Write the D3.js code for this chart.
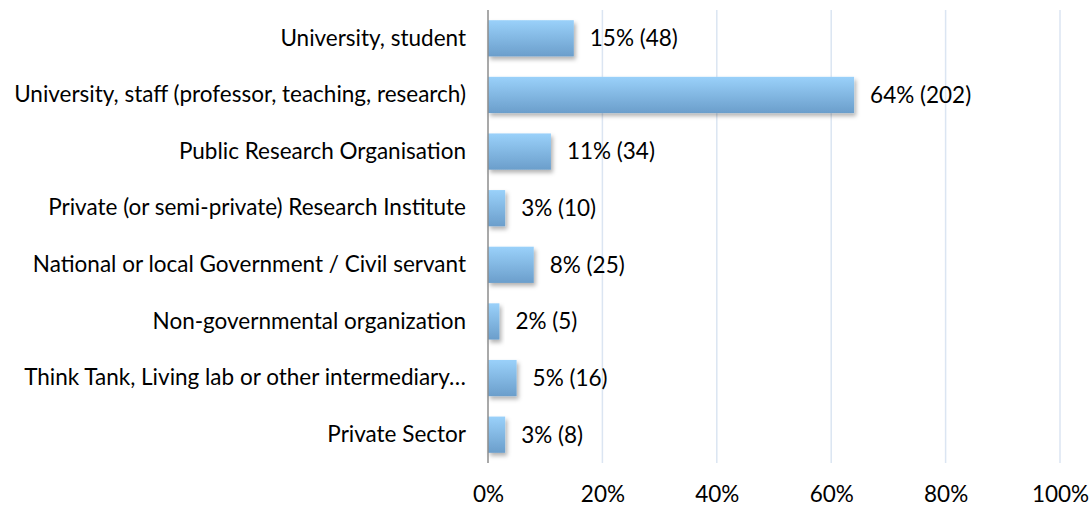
<!DOCTYPE html>
<html>
<head>
<meta charset="utf-8">
<script src="https://cdn.jsdelivr.net/npm/d3@7"></script>
<style>
  body { margin: 0; background: #fff; }
  text { font-family: Lato, "Open Sans", sans-serif; fill: #000; }
</style>
</head>
<body>
<div id="chart"></div>
<script>
// Categories, top to bottom
const categories = [
    'University, student',
    'University, staff (professor, teaching, research)',
    'Public Research Organisation',
    'Private (or semi-private) Research Institute',
    'National or local Government / Civil servant',
    'Non-governmental organization',
    'Think Tank, Living lab or other intermediary…',
    'Private Sector'
];
const percents = [15, 64, 11, 3, 8, 2, 5, 3];
const counts = [48, 202, 34, 10, 25, 5, 16, 8];
const ticks = [0, 20, 40, 60, 80, 100];

const W = 1089, H = 507;
const plotLeft = 488, plotRight = 1060, plotTop = 10, plotBottom = 463;
const fontSize = '22.5px';

var svg = d3.select('#chart').append('svg')
    .attr('width', W)
    .attr('height', H);

var defs = svg.append('defs');
var grad = defs.append('linearGradient')
    .attr('id', 'barGrad')
    .attr('x1', 0).attr('y1', 0).attr('x2', 0).attr('y2', 1);
grad.append('stop').attr('offset', '0%').attr('stop-color', '#9ad1fa');
grad.append('stop').attr('offset', '100%').attr('stop-color', '#6b9ecb');

var shadow = defs.append('filter')
    .attr('id', 'shadow')
    .attr('x', '-20%').attr('y', '-20%')
    .attr('width', '160%').attr('height', '160%');
shadow.append('feDropShadow')
    .attr('dx', 2).attr('dy', 3)
    .attr('stdDeviation', 2)
    .attr('flood-color', '#000')
    .attr('flood-opacity', 0.3);

var x = d3.scaleLinear().domain([0, 100]).range([plotLeft, plotRight]);
var y = d3.scaleBand().domain(categories).range([plotTop, plotBottom])
    .paddingInner(0.36).paddingOuter(0.18);

// Gridlines
svg.append('g')
    .selectAll('line')
    .data(ticks.slice(1))
    .enter()
    .append('line')
    .attr('x1', d => x(d)).attr('x2', d => x(d))
    .attr('y1', plotTop).attr('y2', plotBottom)
    .attr('stroke', '#dbe5f2')
    .attr('stroke-width', 1.5);

// Bars
svg.append('g')
    .selectAll('rect')
    .data(categories)
    .enter()
    .append('rect')
    .attr('x', x(0))
    .attr('y', d => y(d))
    .attr('width', (d, i) => x(percents[i]) - x(0))
    .attr('height', y.bandwidth())
    .attr('fill', 'url(#barGrad)')
    .attr('filter', 'url(#shadow)');

// Value labels
svg.append('g')
    .selectAll('text')
    .data(categories)
    .enter()
    .append('text')
    .attr('x', (d, i) => x(percents[i]) + 16)
    .attr('y', d => y(d) + y.bandwidth() / 2)
    .attr('dy', '0.35em')
    .attr('font-size', fontSize)
    .text((d, i) => percents[i] + '% (' + counts[i] + ')');

// Y axis (category labels)
var yAxis = svg.append('g')
    .attr('transform', 'translate(' + plotLeft + ',0)')
    .call(d3.axisLeft(y).tickSize(0).tickPadding(22));
yAxis.select('.domain').remove();
yAxis.selectAll('text')
    .attr('font-size', fontSize)
    .attr('font-family', 'Lato, "Open Sans", sans-serif')
    .attr('fill', '#000');

// Axis line at 0%
svg.append('line')
    .attr('x1', x(0)).attr('x2', x(0))
    .attr('y1', plotTop).attr('y2', plotBottom)
    .attr('stroke', '#8c8c8c')
    .attr('stroke-width', 1.5);

// X axis
var xAxis = svg.append('g')
    .attr('transform', 'translate(0,' + plotBottom + ')')
    .call(d3.axisBottom(x).tickValues(ticks).tickSize(0).tickPadding(23)
        .tickFormat(d => d + '%'));
xAxis.select('.domain').remove();
xAxis.selectAll('text')
    .attr('font-size', fontSize)
    .attr('font-family', 'Lato, "Open Sans", sans-serif')
    .attr('fill', '#000');
</script>
</body>
</html>
